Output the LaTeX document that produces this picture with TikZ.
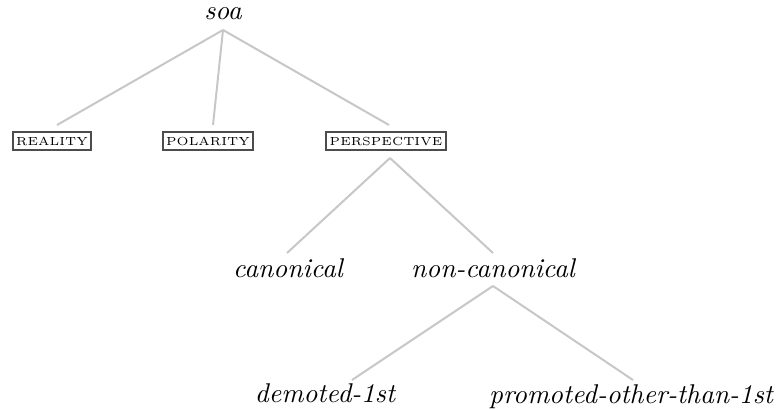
\documentclass[tikz,border=0pt]{standalone}
\tikzset{
  feat/.style={draw=black!70, line width=0.6pt,
    inner xsep=1.2pt, inner ysep=1.8pt, text height=2.9pt, text depth=0pt,
    font=\fontsize{4.1}{5}\selectfont},
  val/.style={anchor=base, inner sep=0pt, font=\fontsize{9.5}{11}\selectfont\itshape},
  branch/.style={draw=black!22, line width=0.7pt}
}
\begin{document}
\begin{tikzpicture}[x=0.35pt,y=-0.35pt]
      \useasboundingbox (0,0) rectangle (780,409);
      \draw
        (223,19) node[val] (soa){soa}
        (52,141) node[feat] (reality){REALITY}
        (208,141) node[feat] (polarity){POLARITY}
        (386,141) node[feat] (perspective){PERSPECTIVE}
        (288,277) node[val] (canonical){canonical}
        (493,277) node[val] (noncanonical){non-canonical}
        (325,402) node[val] (demoted){demoted-1st}
        (631,403) node[val] (promoted){promoted-other-than-1st};
      \coordinate (soa-b) at (223,30);
      \coordinate (reality-t) at (57,125);
      \coordinate (polarity-t) at (213,125);
      \coordinate (perspective-t) at (389,125);
      \coordinate (perspective-b) at (390,158);
      \coordinate (canonical-t) at (287,253);
      \coordinate (noncanonical-t) at (493,253);
      \coordinate (noncanonical-b) at (493,286);
      \coordinate (demoted-t) at (352,380);
      \coordinate (promoted-t) at (633,380);
      \begin{scope}[branch]
        \draw (soa-b) to (reality-t);
        \draw (soa-b) to (polarity-t);
        \draw (soa-b) to (perspective-t);
        \draw (perspective-b) to (canonical-t);
        \draw (perspective-b) to (noncanonical-t);
        \draw (noncanonical-b) to (demoted-t);
        \draw (noncanonical-b) to (promoted-t);
      \end{scope}
    \end{tikzpicture}
\end{document}
